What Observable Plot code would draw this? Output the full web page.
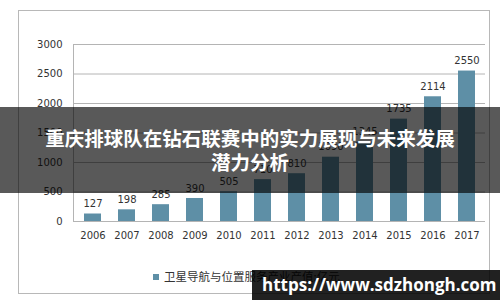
<!DOCTYPE html>
<html><head><meta charset="utf-8">
<script src="https://cdn.jsdelivr.net/npm/d3@7"></script>
<script src="https://cdn.jsdelivr.net/npm/@observablehq/plot@0.6"></script>
<style>
body{margin:0;background:#fff;}
#wrap{position:relative;width:500px;height:300px;overflow:hidden;background:#fff;}
#chart{position:absolute;left:0;top:0;}
#frame{position:absolute;left:18px;top:10px;width:470px;height:282px;border:1px solid #b8b8b8;pointer-events:none;}
#legend{position:absolute;left:153px;top:267px;font:11.5px "Noto Sans CJK SC",sans-serif;color:#333;line-height:18px;white-space:nowrap;}
#legend .sw{display:inline-block;width:6px;height:6px;background:#5e8fa6;margin-right:5px;vertical-align:1px;}
#banner{position:absolute;left:0;top:107px;width:500px;height:86px;background:rgba(0,0,0,0.65);display:flex;align-items:center;justify-content:center;}
#title{width:480px;text-align:center;font:bold 19.5px/24px "Noto Sans CJK SC",sans-serif;color:#fff;white-space:nowrap;}
#wm{position:absolute;left:252px;top:270px;width:248px;height:30px;background:rgba(0,0,0,0.87);color:#fff;font:bold 17px/30px "Open Sans",sans-serif;padding-left:10px;box-sizing:border-box;white-space:nowrap;}
</style></head><body>
<div id="wrap">
  <div id="chart"></div>
  <div id="frame"></div>
  <div id="legend"><span class="sw"></span>卫星导航与位置服务产业产值:亿元</div>
  <div id="banner"><div id="title">重庆排球队在钻石联赛中的实力展现与未来发展<br>潜力分析</div></div>
  <div id="wm">https://www.sdzhongh.com</div>
</div>
<script>
const years = ["2006","2007","2008","2009","2010","2011","2012","2013","2014","2015","2016","2017"];
const values = [127,198,285,390,505,710,810,1090,1345,1735,2114,2550];
const yTicks = [0,500,1000,1500,2000,2500,3000];

const data = years.map((y,i)=>({year:y, value:values[i]}));

const leftLine = (index, scales, values, dims) => {
  const l = document.createElementNS("http://www.w3.org/2000/svg","line");
  l.setAttribute("x1", dims.marginLeft + 0.5);
  l.setAttribute("x2", dims.marginLeft + 0.5);
  l.setAttribute("y1", scales.y(3000));
  l.setAttribute("y2", scales.y(0));
  l.setAttribute("stroke", "#b4b4b4");
  return l;
};

const chart = Plot.plot({
  width: 500,
  height: 300,
  marginLeft: 73,
  marginRight: 15,
  marginTop: 44,
  marginBottom: 79,
  style: {fontFamily: "DejaVu Sans, sans-serif", fontSize: "10px", color: "#333", background: "transparent"},
  x: {type: "band", domain: years, paddingInner: 0.5, paddingOuter: 0.26, axis: null},
  y: {domain: [0, 3000], axis: null},
  marks: [
    Plot.gridY(yTicks, {stroke: "#b4b4b4", strokeOpacity: 1}),
    leftLine,
    Plot.barY(data, {x: "year", y: "value", fill: "#5e8fa6"}),
    Plot.text(data, {x: "year", y: "value", text: d => String(d.value), dy: -10, fontSize: 10, fill: "#333"}),
    Plot.axisY(yTicks, {tickSize: 0, tickPadding: 11, fontSize: 10, label: null, tickFormat: d => String(d)}),
    Plot.axisX({tickSize: 0, tickPadding: 10, fontSize: 10, label: null})
  ]
});
document.getElementById("chart").appendChild(chart);
</script>
</body></html>
